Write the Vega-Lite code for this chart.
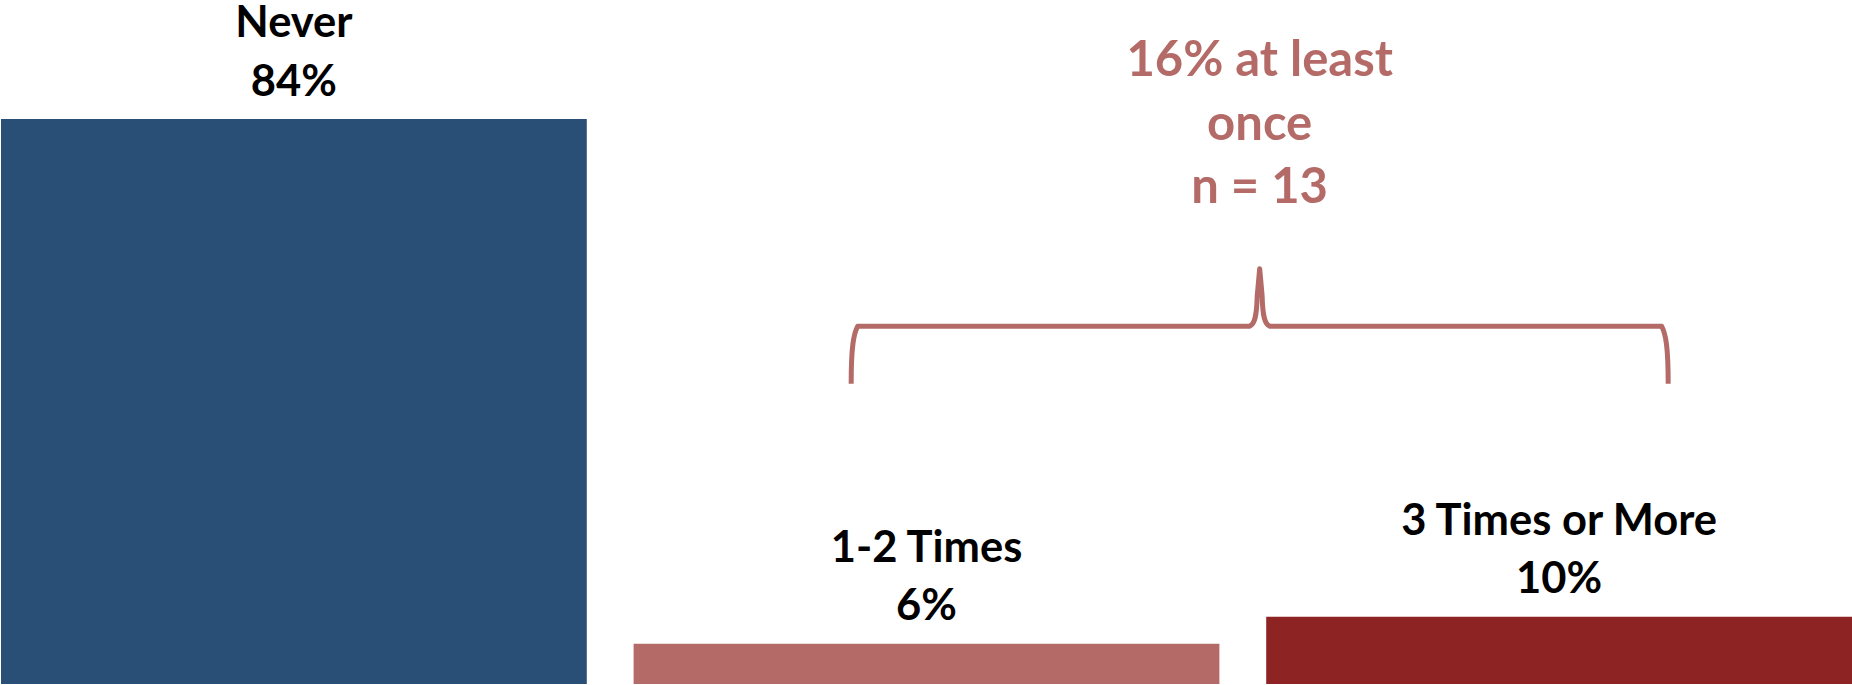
{
  "$schema": "https://vega.github.io/schema/vega-lite/v6.json",
  "width": 1852,
  "height": 685,
  "autosize": {"type": "fit", "contains": "padding"},
  "padding": {"left": 0, "top": 0, "right": 0, "bottom": 1},
  "background": "white",
  "config": {
    "view": {"stroke": null},
    "font": "Lato",
    "text": {"font": "Lato", "fontWeight": "bold"}
  },
  "layer": [
    {
      "data": {
        "values": [
          {"cat": "Never", "pct": 84},
          {"cat": "1-2 Times", "pct": 6},
          {"cat": "3 Times or More", "pct": 10}
        ]
      },
      "transform": [
        {"calculate": "datum.cat + '|' + datum.pct + '%'", "as": "label"}
      ],
      "encoding": {
        "x": {
          "field": "cat",
          "type": "nominal",
          "sort": null,
          "axis": null,
          "scale": {"paddingInner": 0.074, "paddingOuter": 0}
        },
        "y": {
          "field": "pct",
          "type": "quantitative",
          "axis": null,
          "scale": {"domain": [0, 101.7], "nice": false, "zero": true}
        }
      },
      "layer": [
        {
          "mark": {"type": "bar"},
          "encoding": {
            "color": {
              "field": "cat",
              "type": "nominal",
              "legend": null,
              "scale": {
                "domain": ["Never", "1-2 Times", "3 Times or More"],
                "range": ["#294F77", "#B46B68", "#8E2323"]
              }
            }
          }
        },
        {
          "mark": {
            "type": "text",
            "align": "center",
            "baseline": "alphabetic",
            "lineBreak": "|",
            "lineHeight": 58.5,
            "fontSize": 43.5,
            "fontWeight": "bold",
            "color": "#000000",
            "dy": -82
          },
          "encoding": {
            "text": {"field": "label", "type": "nominal"}
          }
        }
      ]
    },
    {
      "data": {"values": [{"pos": 2.04, "level": 53.2}]},
      "mark": {
        "type": "point",
        "filled": false,
        "shape": "M -1 0.1408 C -1 0.049 -0.994 0.0196 -0.984 0 L -0.0245 0 C -0.0122 -0.0049 -0.0073 -0.0245 -0.0061 -0.0734 L 0 -0.1408 L 0.0061 -0.0734 C 0.0073 -0.0245 0.0122 -0.0049 0.0245 0 L 0.984 0 C 0.994 0.0196 1 0.049 1 0.1408",
        "size": 667489,
        "stroke": "#B46B68",
        "strokeWidth": 5,
        "strokeJoin": "round",
        "strokeCap": "butt",
        "opacity": 1
      },
      "encoding": {
        "x": {
          "field": "pos",
          "type": "quantitative",
          "axis": null,
          "scale": {"domain": [0, 3], "nice": false, "zero": false}
        },
        "y": {
          "field": "level",
          "type": "quantitative",
          "axis": null,
          "scale": {"domain": [0, 101.7], "nice": false, "zero": true}
        }
      }
    },
    {
      "data": {"values": [{"pos": 2.04, "level": 90.4, "note": "16% at least|once|n = 13"}]},
      "mark": {
        "type": "text",
        "align": "center",
        "baseline": "alphabetic",
        "lineBreak": "|",
        "lineHeight": 63.5,
        "fontSize": 49,
        "fontWeight": "bold",
        "color": "#B46B68"
      },
      "encoding": {
        "x": {
          "field": "pos",
          "type": "quantitative",
          "axis": null,
          "scale": {"domain": [0, 3], "nice": false, "zero": false}
        },
        "y": {
          "field": "level",
          "type": "quantitative",
          "axis": null,
          "scale": {"domain": [0, 101.7], "nice": false, "zero": true}
        },
        "text": {"field": "note", "type": "nominal"}
      }
    }
  ],
  "resolve": {"scale": {"x": "independent"}}
}
